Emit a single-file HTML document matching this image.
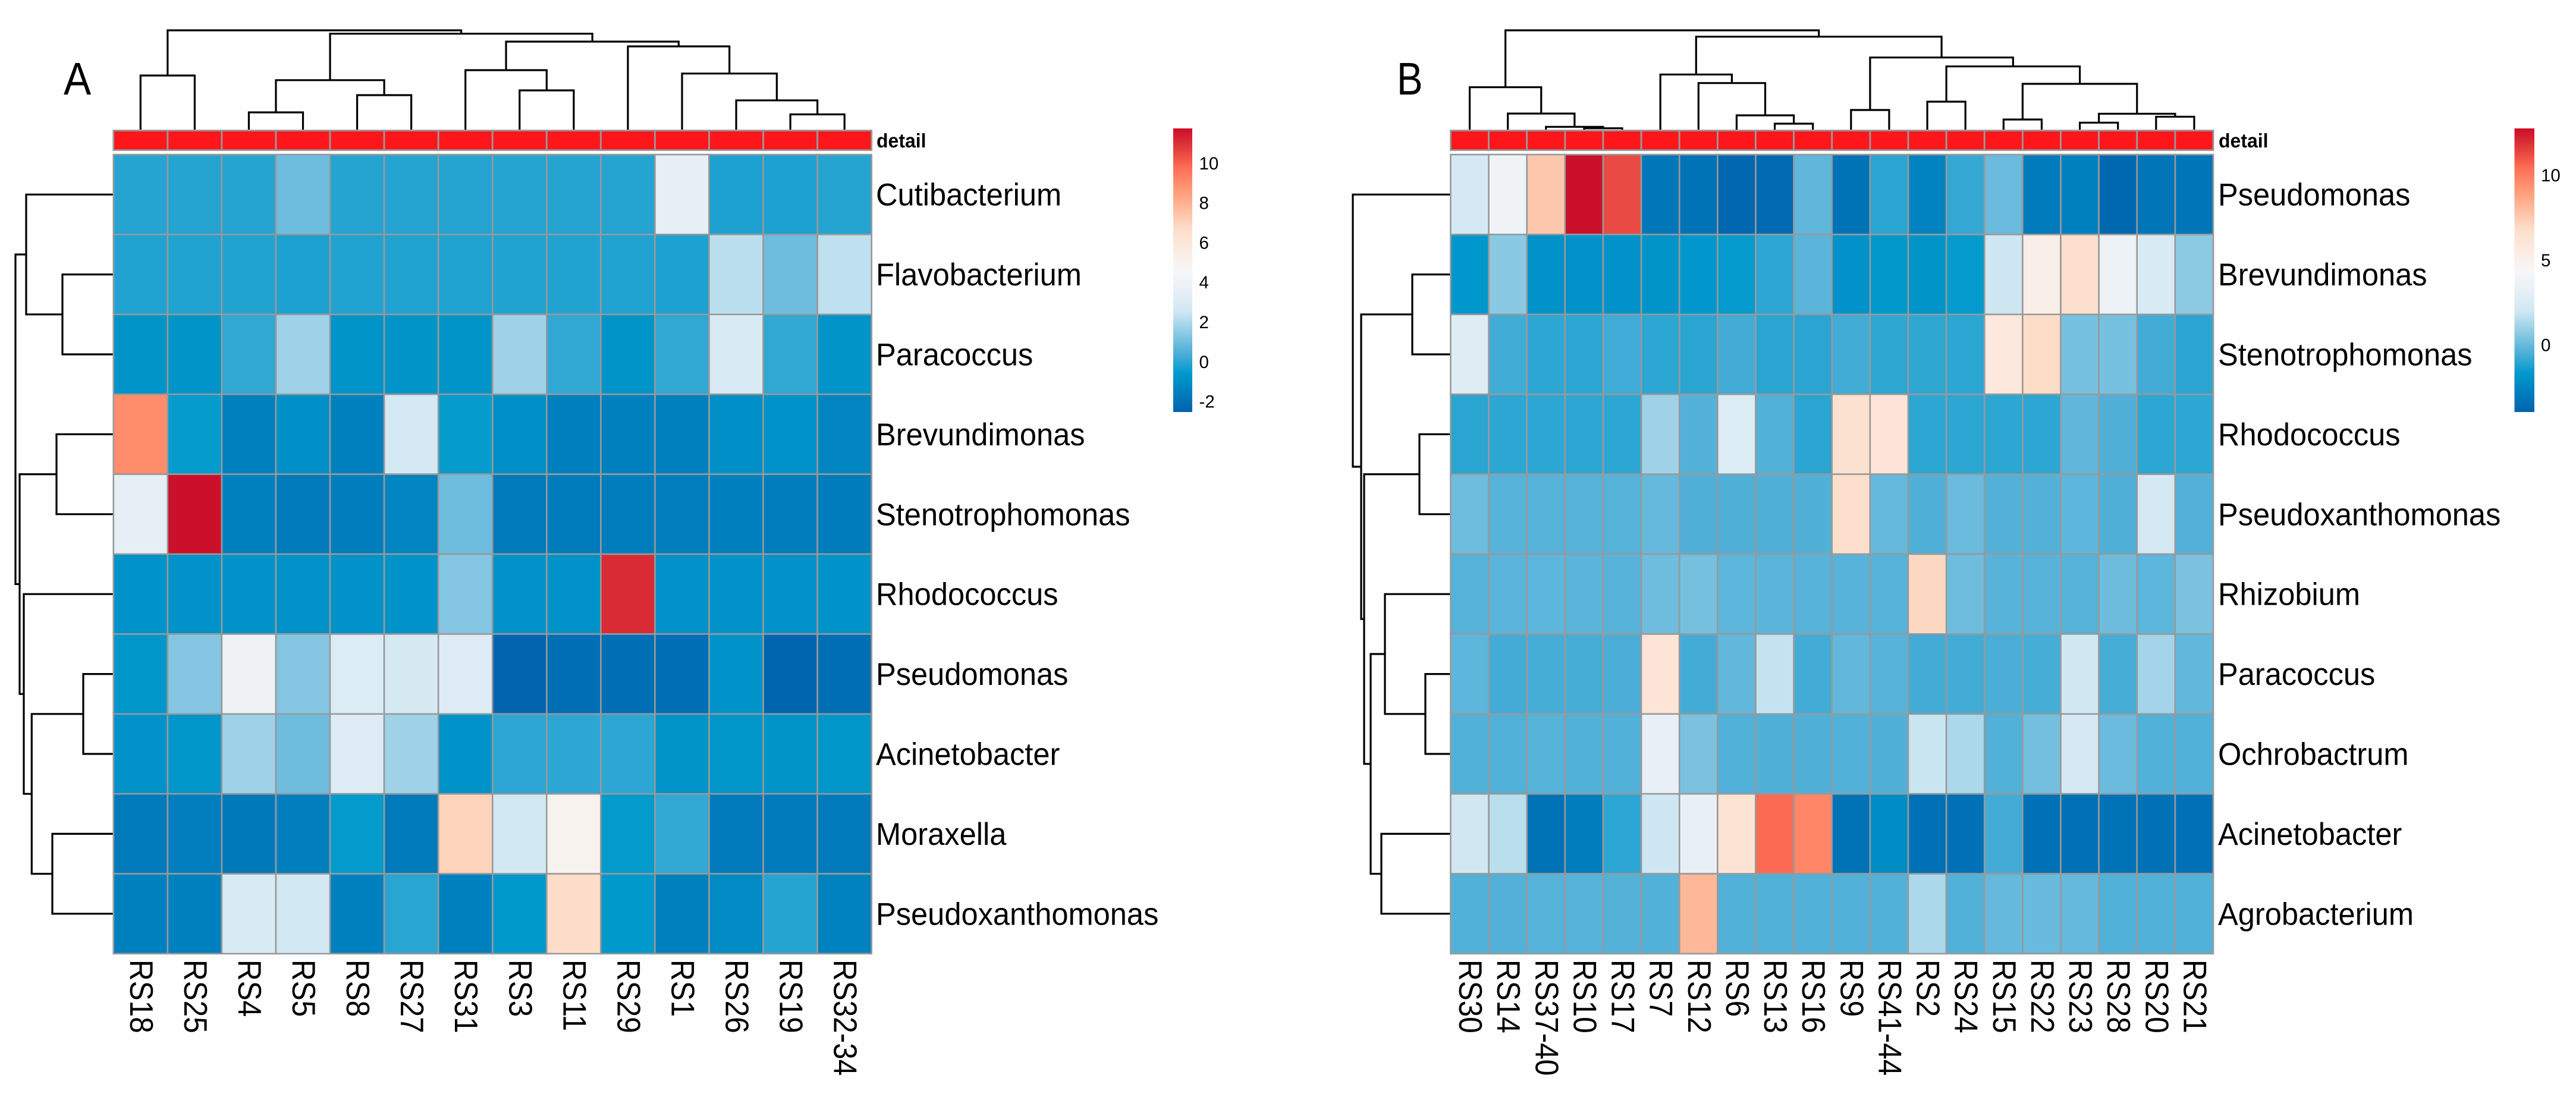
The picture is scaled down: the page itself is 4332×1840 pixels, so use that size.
<!DOCTYPE html>
<html lang="en">
<head>
<meta charset="utf-8">
<title>Genus abundance clustered heatmaps A and B</title>
<style>
html,body{margin:0;padding:0;background:#fefefe;}
svg{display:block;}
text{font-family:"Liberation Sans",sans-serif;fill:#000;}
</style>
</head>
<body>
<svg id="chart" xmlns="http://www.w3.org/2000/svg" width="4332" height="1840" viewBox="0 0 4332 1840"></svg>
<script>
/* ---------- Shared colour ramp ---------- */
const rampPositions = [0, .137, .21, .29, .355, .43, .5, .57, .65, .72, .79, .86, .93, 1];
const rampColors = [[0,99,174],[0,153,204],[80,176,216],[150,206,230],[208,232,243],[232,240,245],[246,246,246],[252,235,226],[253,220,200],[253,185,155],[255,150,115],[255,110,85],[225,60,60],[201,14,41]];

/* ---------- Panel A data ---------- */
const samplesA = ["RS18","RS25","RS4","RS5","RS8","RS27","RS31","RS3","RS11","RS29","RS1","RS26","RS19","RS32-34"];
const generaA = ["Cutibacterium","Flavobacterium","Paracoccus","Brevundimonas","Stenotrophomonas","Rhodococcus","Pseudomonas","Acinetobacter","Moraxella","Pseudoxanthomonas"];
const cutibacteriumA = [-0.1,-0.1,-0.1,0.95,-0.1,-0.1,-0.1,-0.1,-0.1,-0.1,3.5,-0.2,-0.2,-0.1];
const flavobacteriumA = [-0.15,-0.15,-0.15,-0.2,-0.15,-0.15,-0.15,-0.15,-0.15,-0.15,-0.2,2.2,0.95,2.25];
const paracoccusA = [-0.75,-0.75,0.05,1.75,-0.75,-0.75,-0.75,1.75,0.05,-0.75,0.05,2.9,0.05,-0.75];
const brevundimonasA = [9.0,-0.5,-1.45,-0.9,-1.45,2.7,-0.5,-0.9,-1.5,-1.45,-1.45,-0.9,-0.8,-1.3];
const stenotrophomonasA = [3.5,11.7,-1.45,-1.7,-1.6,-1.3,0.95,-1.7,-1.65,-1.6,-1.55,-1.5,-1.6,-1.65];
const rhodococcusA = [-0.8,-0.85,-0.85,-0.85,-0.85,-0.8,1.3,-0.85,-0.85,11.1,-0.85,-0.85,-0.85,-0.8];
const pseudomonasA = [-0.7,1.3,4.0,1.3,3.0,2.8,3.1,-2.5,-2.1,-2.1,-2.1,-0.8,-2.45,-2.15];
const acinetobacterA = [-0.85,-0.7,1.75,0.95,3.1,1.75,-0.8,0,0,0,-0.75,-0.7,-0.75,-0.7];
const moraxellaA = [-1.7,-1.55,-1.75,-1.55,-0.55,-1.7,7.0,2.6,5.0,-0.55,0.05,-1.7,-1.7,-1.7];
const pseudoxanthomonasA = [-1.45,-1.45,2.9,2.6,-1.45,-0.05,-1.45,-0.6,6.7,-0.6,-1.45,-1.1,-0.1,-1.4];
const valuesA = [cutibacteriumA,flavobacteriumA,paracoccusA,brevundimonasA,stenotrophomonasA,rhodococcusA,pseudomonasA,acinetobacterA,moraxellaA,pseudoxanthomonasA];
const colTreeA = [167,[91,0,1],[161.3,[83.2,[29,2,3],[58,4,5]],[148,[100,6,[66,7,8]],[140,9,[94.3,10,[49.2,11,[25.6,12,13]]]]]]];
const rowTreeA = [164.8,[146.8,0,[85.8,1,2]],[157.8,[95.8,3,4],[150.8,5,[137.5,[50.8,6,7],[102.8,8,9]]]]];
const legendTicksA = [-2,0,2,4,6,8,10];
const legendRangeA = [-2.54,11.74];

/* ---------- Panel B data ---------- */
const samplesB = ["RS30","RS14","RS37-40","RS10","RS17","RS7","RS12","RS6","RS13","RS16","RS9","RS41-44","RS2","RS24","RS15","RS22","RS23","RS28","RS20","RS21"];
const generaB = ["Pseudomonas","Brevundimonas","Stenotrophomonas","Rhodococcus","Pseudoxanthomonas","Rhizobium","Paracoccus","Ochrobactrum","Acinetobacter","Agrobacterium"];
const pseudomonasB = [2.2,3.9,7.6,12.7,11.25,-3.1,-3.3,-3.8,-3.7,-0.15,-3.3,-1.03,-2.6,-0.85,0.05,-3.0,-2.7,-3.75,-3.15,-3.2];
const brevundimonasB = [-1.7,0.65,-1.95,-1.95,-1.95,-1.9,-1.7,-1.6,-1.0,-0.25,-1.95,-1.65,-1.9,-1.6,1.95,5.2,6.6,3.6,2.4,0.7];
const stenotrophomonasB = [2.7,-0.68,-1.0,-1.0,-0.7,-1.0,-1.03,-0.65,-1.03,-1.03,-0.68,-0.95,-0.95,-1.0,5.8,6.9,0.3,0.3,-0.65,-1.03];
const rhodococcusB = [-1.03,-1.0,-1.0,-1.0,-1.0,1.05,-0.4,2.6,-0.42,-1.03,6.5,6.1,-1.0,-1.0,-1.0,-1.0,-0.15,-0.45,-1.0,-1.0];
const pseudoxanthomonasB = [0.15,-0.3,-0.35,-0.35,-0.35,-0.05,-0.45,-0.45,-0.45,-0.45,6.6,-0.05,-0.45,0.05,-0.4,-0.4,-0.2,-0.45,2.2,-0.4];
const rhizobiumB = [-0.35,-0.25,-0.2,-0.25,-0.3,0.15,0.25,-0.2,-0.25,-0.3,-0.3,-0.35,7.0,0.15,-0.3,-0.3,-0.35,0.1,-0.2,0.35];
const paracoccusB = [-0.2,-0.65,-0.6,-0.6,-0.55,6.2,-0.65,-0.1,1.75,-0.65,-0.1,-0.3,-0.65,-0.65,-0.55,-0.6,2.0,-0.6,1.15,-0.1];
const ochrobactrumB = [-0.42,-0.42,-0.35,-0.42,-0.42,3.2,0.35,-0.42,-0.45,-0.45,-0.42,-0.45,1.85,1.3,-0.42,0.2,2.2,0.05,-0.42,-0.42];
const acinetobacterB = [2.05,1.55,-3.3,-2.85,-1.0,1.95,3.2,6.3,10.5,9.7,-3.3,-2.2,-3.35,-3.35,-0.65,-3.35,-3.35,-3.3,-3.35,-3.35];
const agrobacteriumB = [-0.42,-0.4,-0.35,-0.35,-0.38,-0.42,8.1,-0.42,-0.42,-0.42,-0.42,-0.42,1.3,-0.42,-0.05,0,-0.05,-0.42,-0.42,-0.42];
const valuesB = [pseudomonasB,brevundimonasB,stenotrophomonasB,rhodococcusB,pseudoxanthomonasB,rhizobiumB,paracoccusB,ochrobactrumB,acinetobacterB,agrobacteriumB];
const colTreeB = [167,[71.3,0,[27,1,[4.7,2,[2.3,3,4]]]],[156.3,[92.7,5,[78.3,6,[24,7,[10,8,9]]]],[121.3,[33,10,11],[106.3,[47,12,13],[77,[17,14,15],[26.7,[11.7,16,17],[21.7,18,19]]]]]]];
const rowTreeB = [164.5,0,[150.5,[64.5,1,2],[145.5,[52.5,3,4],[134.5,[110.5,5,[42.5,6,7]],[116.5,8,9]]]]];
const legendTicksB = [0,5,10];
const legendRangeB = [-3.96,12.75];

/* ---------- Layout ---------- */
const SVGNS = "http://www.w3.org/2000/svg";
const svg = document.getElementById("chart");
const gridTop = 260, gridBottom = 1604, stripTop = 219.5, stripBottom = 252.5, colBase = 218, barTop = 216, barBottom = 693;
const GRID = "#999999";

function make(tag, parent, attrs) {
  const el = document.createElementNS(SVGNS, tag);
  for (const k in attrs) el.setAttribute(k, attrs[k]);
  parent.appendChild(el);
  return el;
}
function rampColor(t) {
  t = Math.max(0, Math.min(1, t));
  let i = 0;
  while (i < rampPositions.length - 2 && t > rampPositions[i + 1]) i++;
  const f = (t - rampPositions[i]) / (rampPositions[i + 1] - rampPositions[i]);
  const c = rampColors[i].map((a, k) => Math.round(a + (rampColors[i + 1][k] - a) * f));
  return "rgb(" + c.join(",") + ")";
}
function drawTree(node, parent, pos, depthScale, horizontal, name) {
  if (typeof node === "number") return { c: pos(node), h: 0 };
  const a = drawTree(node[1], parent, pos, depthScale, horizontal, name);
  const b = drawTree(node[2], parent, pos, depthScale, horizontal, name);
  const d = depthScale(node[0]), da = depthScale(a.h), db = depthScale(b.h);
  const path = horizontal
    ? "M" + da + " " + a.c + "H" + d + "V" + b.c + "H" + db
    : "M" + a.c + " " + da + "V" + d + "H" + b.c + "V" + db;
  const el = make("path", parent, { d: path, fill: "none", stroke: "#000", "stroke-width": 3.2 });
  
  
  return { c: (a.c + b.c) / 2, h: node[0] };
}
function drawPanel(p) {
  const g = make("g", svg, {});
  
  

  const colW = (p.right - p.left) / p.samples.length;
  const rowH = (gridBottom - gridTop) / p.genera.length;
  const xBand = i => p.left + colW * i;
  const yBand = i => gridTop + rowH * i;
  const xMid = i => xBand(i) + colW / 2;
  const yMid = i => yBand(i) + rowH / 2;
  const span = p.range[1] - p.range[0];
  const colorOf = v => rampColor((v - p.range[0]) / span);
  const barY = v => barBottom - (v - p.range[0]) / span * (barBottom - barTop);

  /* panel letter */
  const letter = make("text", g, { transform: "translate(" + p.letterX + ",159) scale(" + p.letterScale + ",1)", "font-size": 77 });
  letter.textContent = p.id;
  
  

  /* dendrograms */
  const colDendro = make("g", g, {});
  
  
  drawTree(p.colTree, colDendro, xMid, h => colBase - h, false, 'column-dendrogram');
  const rowDendro = make("g", g, {});
  
  
  drawTree(p.rowTree, rowDendro, yMid, h => p.left - h, true, 'row-dendrogram');

  /* annotation strip */
  p.samples.forEach((s, i) => {
    const r = make("rect", g, { x: xBand(i), y: stripTop, width: colW, height: stripBottom - stripTop, fill: "#ff161b", stroke: GRID, "stroke-width": 2.8 });
    
    
  });
  const detail = make("text", g, { transform: "translate(" + p.detailX + ",248) scale(1,1.05)", "font-size": 32, "font-weight": "bold" });
  detail.textContent = "detail";
  
  

  /* heatmap cells */
  p.values.forEach((row, r) => {
    row.forEach((v, c) => {
      const cell = make("rect", g, { x: xBand(c), y: yBand(r), width: colW, height: rowH, fill: colorOf(v), stroke: GRID, "stroke-width": 2.6 });
      
      
    });
  });

  /* row labels */
  p.genera.forEach((name, r) => {
    const t = make("text", g, { transform: "translate(" + p.labelX + "," + (yMid(r) + 18.5) + ") scale(1,1.05)", "font-size": 50.6 });
    t.textContent = name;
    
    
  });

  /* column labels */
  p.samples.forEach((s, c) => {
    const t = make("text", g, { transform: "translate(" + (xMid(c) - 17.5) + ",1614) rotate(90) scale(1,1.11)", "font-size": 49.5 });
    t.textContent = s;
    
    
  });

  /* colour legend */
  const gradId = "ramp" + p.id;
  const grad = make("linearGradient", g, { id: gradId, x1: 0, y1: 1, x2: 0, y2: 0 });
  rampPositions.forEach((pos, i) => {
    make("stop", grad, { offset: pos, "stop-color": "rgb(" + rampColors[i].join(",") + ")" });
  });
  const bar = make("rect", g, { x: p.barX, y: barTop, width: p.barW, height: barBottom - barTop, fill: "url(#" + gradId + ")" });
  
  
  p.ticks.forEach(v => {
    const t = make("text", g, { x: p.tickX, y: barY(v) + 10.7, "font-size": 29.5 });
    t.textContent = String(v);
    
    
  });
}

drawPanel({ id: "A", left: 190.8, right: 1465.7, samples: samplesA, genera: generaA, values: valuesA, colTree: colTreeA, rowTree: rowTreeA, ticks: legendTicksA, range: legendRangeA, letterX: 107, letterScale: 0.9, detailX: 1474, labelX: 1473, barX: 1973, barW: 32, tickX: 2016.5 });
drawPanel({ id: "B", left: 2439.5, right: 3722, samples: samplesB, genera: generaB, values: valuesB, colTree: colTreeB, rowTree: rowTreeB, ticks: legendTicksB, range: legendRangeB, letterX: 2349, letterScale: 0.85, detailX: 3731, labelX: 3730, barX: 4228.5, barW: 33.5, tickX: 4273 });
</script>
</body>
</html>
